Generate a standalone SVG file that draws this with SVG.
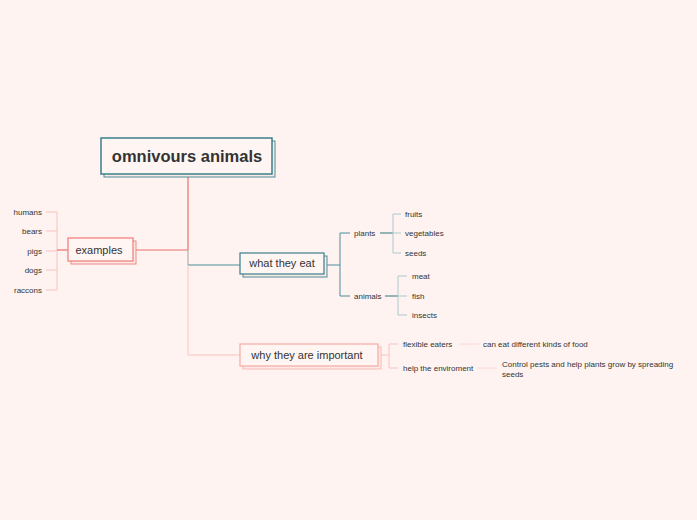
<svg xmlns="http://www.w3.org/2000/svg" width="697" height="520" viewBox="0 0 697 520">
<style>
text{font-family:"Liberation Sans",Arial,sans-serif;fill:#333;}
.s{font-size:8px;}
.m{font-size:11px;}
.b{font-size:16.5px;font-weight:bold;}
.red{stroke:#e8706c;fill:none;stroke-width:1.2;}
.tl{stroke:#4a8e98;fill:none;stroke-width:1;}
.tlD{stroke:#2f7580;fill:none;stroke-width:1.2;}
.tlL{stroke:#a9c9cd;fill:none;stroke-width:1;}
.pk{stroke:#f8c2bd;fill:none;stroke-width:1;}
.pkL{stroke:#fbd6d2;fill:none;stroke-width:1;}
</style>
<rect width="697" height="520" fill="#fef3f1"/>
<g id="connectors">
<path class="red" d="M188,175 V250 M133,250 H188"/>
<path d="M188,250 V265" stroke="#b5b0ae" stroke-width="1.2" fill="none"/>
<path class="tl" d="M188,265 H240"/>
<path class="pk" d="M188,265 V355 H240"/>
<path class="pk" d="M46,212 H57 M46,231 H57 M46,251 H57 M46,270 H57 M46,290 H57 M57,212 V290"/>
<path class="red" d="M57,250 H68"/>
<path class="tl" d="M324,265 H340 M340,233 V296 M340,233 H350 M340,296 H350"/>
<path class="tlD" d="M380,233 H393 M385,296 H398"/>
<path class="tlL" d="M393,214 V253 M393,214 H401 M393,253 H401 M393,233 H401 M398,276 V315 M398,276 H407 M398,296 H407 M398,315 H407"/>
<path class="pk" d="M378,355 H389 M389,344 V368 M389,344 H398 M389,368 H398"/>
<path class="pkL" d="M459,344 H479 M477,368 H497"/>
</g>
<g id="root">
<rect x="104" y="141" width="171" height="36" fill="#fbe9e6" stroke="#4a8e98" stroke-width="1"/>
<rect x="101" y="138" width="171" height="36" fill="#fff6f4" stroke="#3a7f8a" stroke-width="1.5"/>
<text class="b" x="187" y="162" text-anchor="middle">omnivours animals</text>
</g>
<g id="examples">
<rect x="71" y="241" width="65" height="23" fill="#fbe9e6" stroke="#f08a86" stroke-width="1"/>
<rect x="68" y="238" width="65" height="23" fill="#fff6f4" stroke="#f07a76" stroke-width="1.2"/>
<text class="m" x="99" y="254" text-anchor="middle">examples</text>
</g>
<g id="ex-items">
<text class="s" x="42" y="215" text-anchor="end">humans</text>
<text class="s" x="42" y="234" text-anchor="end">bears</text>
<text class="s" x="42" y="254" text-anchor="end">pigs</text>
<text class="s" x="42" y="273" text-anchor="end">dogs</text>
<text class="s" x="42" y="293" text-anchor="end">raccons</text>
</g>
<g id="what">
<rect x="243" y="256" width="84" height="21" fill="#fbe9e6" stroke="#4a8e98" stroke-width="1"/>
<rect x="240" y="253" width="84" height="21" fill="#fff6f4" stroke="#3a7f8a" stroke-width="1.2"/>
<text class="m" x="282" y="267" text-anchor="middle">what they eat</text>
</g>
<g id="plants"><text class="s" x="354" y="236">plants</text></g>
<g id="animals"><text class="s" x="354" y="299">animals</text></g>
<g id="plant-items">
<text class="s" x="405" y="217">fruits</text>
<text class="s" x="405" y="236">vegetables</text>
<text class="s" x="405" y="256">seeds</text>
</g>
<g id="animal-items">
<text class="s" x="412" y="279">meat</text>
<text class="s" x="412" y="299">fish</text>
<text class="s" x="412" y="318">insects</text>
</g>
<g id="why">
<rect x="243" y="347" width="138" height="22" fill="#fbe9e6" stroke="#f8bcb6" stroke-width="1"/>
<rect x="240" y="344" width="138" height="22" fill="#fff6f4" stroke="#f7a9a2" stroke-width="1.2"/>
<text class="m" x="307" y="359" text-anchor="middle">why they are important</text>
</g>
<g id="flexible"><text class="s" x="403" y="347">flexible eaters</text></g>
<g id="help"><text class="s" x="403" y="371">help the enviroment</text></g>
<g id="can-eat"><text class="s" x="483" y="347">can eat different kinds of food</text></g>
<g id="control">
<text class="s" x="502" y="367">Control pests and help plants grow by spreading</text>
<text class="s" x="502" y="377">seeds</text>
</g>
</svg>
